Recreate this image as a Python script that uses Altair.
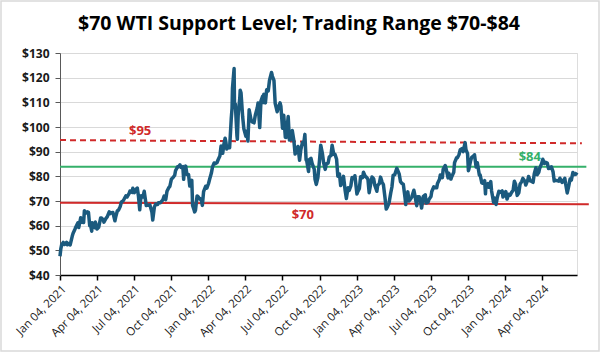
import altair as alt
import pandas as pd

dates_2021 = ["2021-01-04","2021-01-06","2021-01-08","2021-01-12","2021-01-15","2021-01-20","2021-01-22","2021-01-27","2021-01-29",
"2021-02-03","2021-02-05","2021-02-10","2021-02-12","2021-02-17","2021-02-19","2021-02-24","2021-02-26",
"2021-03-03","2021-03-05","2021-03-08","2021-03-12","2021-03-15","2021-03-18","2021-03-19","2021-03-23","2021-03-24","2021-03-26","2021-03-31",
"2021-04-01","2021-04-05","2021-04-09","2021-04-14","2021-04-16","2021-04-20","2021-04-22","2021-04-27","2021-04-30",
"2021-05-05","2021-05-07","2021-05-11","2021-05-14","2021-05-19","2021-05-21","2021-05-25","2021-05-28",
"2021-06-01","2021-06-04","2021-06-08","2021-06-11","2021-06-15","2021-06-18","2021-06-23","2021-06-25","2021-06-30",
"2021-07-02","2021-07-06","2021-07-09","2021-07-13","2021-07-16","2021-07-19","2021-07-21","2021-07-23","2021-07-27","2021-07-30",
"2021-08-04","2021-08-06","2021-08-10","2021-08-13","2021-08-18","2021-08-20","2021-08-24","2021-08-27",
"2021-09-01","2021-09-03","2021-09-08","2021-09-10","2021-09-14","2021-09-17","2021-09-21","2021-09-24","2021-09-28",
"2021-10-01","2021-10-05","2021-10-08","2021-10-13","2021-10-15","2021-10-20","2021-10-22","2021-10-26","2021-10-29",
"2021-11-02","2021-11-04","2021-11-05","2021-11-09","2021-11-12","2021-11-16","2021-11-19","2021-11-24","2021-11-26","2021-11-30",
"2021-12-01","2021-12-03","2021-12-07","2021-12-10","2021-12-14","2021-12-17","2021-12-20","2021-12-23","2021-12-28","2021-12-31"]
prices_2021 = [47.62,50.63,52.24,53.21,52.36,53.24,52.27,52.85,52.20,
55.69,56.85,58.68,59.47,61.14,59.24,63.22,61.50,
61.28,66.09,65.05,65.61,65.39,60.00,61.42,57.76,61.18,60.97,59.16,
61.45,58.65,59.32,63.15,63.13,62.44,61.43,62.94,63.58,
65.63,64.90,65.28,65.37,61.96,63.58,66.07,66.32,
67.72,69.62,70.05,70.91,72.12,71.64,73.08,74.05,73.47,
75.16,73.37,74.56,75.25,71.81,66.42,70.30,72.07,71.65,73.95,
68.15,68.28,68.29,68.44,65.46,62.32,67.54,68.74,
68.59,69.29,69.30,69.72,70.46,71.97,70.56,73.98,75.29,
75.88,78.93,79.35,80.44,82.28,83.87,83.76,84.65,83.57,
83.91,78.81,81.27,84.15,80.79,80.76,76.10,78.39,68.15,66.18,
65.57,66.26,72.05,71.67,70.73,70.86,68.23,73.79,75.98,75.21]

dates_2022 = ["2022-01-04","2022-01-07","2022-01-11","2022-01-14","2022-01-18","2022-01-21","2022-01-25","2022-01-28",
"2022-02-01","2022-02-04","2022-02-08","2022-02-11","2022-02-14","2022-02-16","2022-02-18","2022-02-23","2022-02-25",
"2022-03-01","2022-03-03","2022-03-04","2022-03-08","2022-03-09","2022-03-11","2022-03-15","2022-03-16","2022-03-18","2022-03-22","2022-03-23","2022-03-25","2022-03-29",
"2022-04-01","2022-04-06","2022-04-08","2022-04-11","2022-04-14","2022-04-19","2022-04-22","2022-04-26","2022-04-29",
"2022-05-04","2022-05-06","2022-05-10","2022-05-13","2022-05-17","2022-05-19","2022-05-20","2022-05-24","2022-05-27","2022-05-31",
"2022-06-03","2022-06-08","2022-06-10","2022-06-14","2022-06-17","2022-06-22","2022-06-24","2022-06-29",
"2022-07-01","2022-07-05","2022-07-07","2022-07-08","2022-07-12","2022-07-14","2022-07-15","2022-07-19","2022-07-22","2022-07-26","2022-07-29",
"2022-08-02","2022-08-05","2022-08-09","2022-08-12","2022-08-16","2022-08-19","2022-08-23","2022-08-26","2022-08-29",
"2022-09-01","2022-09-02","2022-09-07","2022-09-09","2022-09-13","2022-09-16","2022-09-21","2022-09-23","2022-09-26","2022-09-30",
"2022-10-04","2022-10-07","2022-10-11","2022-10-14","2022-10-18","2022-10-21","2022-10-25","2022-10-28",
"2022-11-01","2022-11-04","2022-11-08","2022-11-11","2022-11-15","2022-11-18","2022-11-22","2022-11-25","2022-11-28",
"2022-12-02","2022-12-06","2022-12-09","2022-12-13","2022-12-16","2022-12-20","2022-12-23","2022-12-28","2022-12-30"]
prices_2022 = [76.99,78.90,81.22,83.82,85.43,85.14,85.60,86.82,
88.20,92.31,89.36,93.10,95.46,93.66,91.07,92.10,91.59,
103.41,107.67,115.68,123.70,108.70,109.33,96.44,95.04,104.70,111.76,114.93,113.90,104.24,
99.27,96.23,98.26,94.29,106.95,102.56,102.07,101.70,104.69,
107.81,109.77,99.76,110.49,112.40,109.89,113.23,109.77,115.07,114.67,
118.87,122.11,120.67,118.93,109.56,106.19,107.62,109.78,
108.43,99.50,102.73,104.79,95.84,95.78,97.59,104.22,94.70,94.98,98.62,
94.42,89.01,90.50,92.09,86.53,90.77,93.74,93.06,97.01,
86.61,86.87,81.94,86.79,87.31,85.11,82.94,78.74,76.71,79.49,
86.52,92.64,89.35,85.61,82.82,85.05,85.32,87.90,
88.37,92.61,88.91,88.96,86.92,80.08,80.95,76.28,77.24,
79.98,74.25,71.02,75.39,74.29,76.09,79.56,78.96,80.26]

dates_2023 = ["2023-01-04","2023-01-06","2023-01-10","2023-01-13","2023-01-18","2023-01-20","2023-01-24","2023-01-27","2023-01-31",
"2023-02-03","2023-02-07","2023-02-10","2023-02-14","2023-02-17","2023-02-22","2023-02-24","2023-02-28",
"2023-03-03","2023-03-07","2023-03-10","2023-03-14","2023-03-17","2023-03-20","2023-03-24","2023-03-28","2023-03-31",
"2023-04-03","2023-04-07","2023-04-12","2023-04-14","2023-04-18","2023-04-21","2023-04-25","2023-04-28",
"2023-05-02","2023-05-04","2023-05-05","2023-05-09","2023-05-12","2023-05-16","2023-05-19","2023-05-24","2023-05-26","2023-05-31",
"2023-06-02","2023-06-06","2023-06-09","2023-06-12","2023-06-16","2023-06-21","2023-06-23","2023-06-28","2023-06-30",
"2023-07-05","2023-07-07","2023-07-12","2023-07-14","2023-07-19","2023-07-21","2023-07-26","2023-07-28",
"2023-08-02","2023-08-04","2023-08-09","2023-08-11","2023-08-16","2023-08-18","2023-08-23","2023-08-25","2023-08-30",
"2023-09-01","2023-09-06","2023-09-08","2023-09-12","2023-09-15","2023-09-19","2023-09-22","2023-09-27","2023-09-29",
"2023-10-03","2023-10-05","2023-10-06","2023-10-10","2023-10-13","2023-10-18","2023-10-20","2023-10-24","2023-10-27",
"2023-11-01","2023-11-03","2023-11-07","2023-11-10","2023-11-14","2023-11-16","2023-11-17","2023-11-22","2023-11-24","2023-11-29",
"2023-12-01","2023-12-06","2023-12-08","2023-12-12","2023-12-15","2023-12-19","2023-12-22","2023-12-27","2023-12-29"]
prices_2023 = [72.84,73.77,75.12,79.86,79.48,81.64,80.13,79.68,78.87,
73.39,77.14,79.72,79.06,76.34,73.95,76.32,77.05,
79.68,77.58,76.68,71.33,66.74,67.64,69.26,73.20,75.67,
80.42,80.70,83.26,82.52,80.86,77.87,77.07,76.78,
71.66,68.56,71.34,73.71,70.04,70.86,71.69,74.34,72.67,68.09,
71.74,71.74,70.17,67.12,71.78,72.53,69.16,69.56,70.64,
71.79,73.86,75.75,75.42,75.35,77.07,78.78,80.58,
79.49,82.82,84.40,83.19,79.38,81.25,78.89,79.83,81.63,
85.55,87.54,87.51,88.84,90.77,91.20,90.03,93.68,90.79,
89.23,82.31,82.79,85.97,87.69,88.32,88.75,83.74,85.54,
80.44,80.51,77.37,77.17,78.26,72.90,75.89,77.10,75.54,77.86,
74.07,69.38,71.23,68.61,71.43,73.94,73.56,74.11,71.65]

dates_2024 = ["2024-01-03","2024-01-05","2024-01-08","2024-01-12","2024-01-16","2024-01-19","2024-01-23","2024-01-26","2024-01-29",
"2024-02-02","2024-02-06","2024-02-09","2024-02-13","2024-02-16","2024-02-21","2024-02-23","2024-02-28",
"2024-03-01","2024-03-05","2024-03-08","2024-03-12","2024-03-15","2024-03-19","2024-03-22","2024-03-26","2024-03-28",
"2024-04-02","2024-04-05","2024-04-09","2024-04-12","2024-04-16","2024-04-19","2024-04-23","2024-04-26","2024-04-30",
"2024-05-03","2024-05-07","2024-05-10","2024-05-14","2024-05-17","2024-05-22","2024-05-24","2024-05-29","2024-05-31",
"2024-06-04","2024-06-07","2024-06-11","2024-06-14","2024-06-18","2024-06-21","2024-06-25","2024-06-28"]
prices_2024 = [72.70,73.81,70.77,72.68,72.40,73.41,74.37,78.01,76.78,
72.28,73.31,76.84,77.87,79.19,77.91,76.49,78.54,
79.97,78.15,78.01,77.56,81.04,83.47,80.63,81.62,83.17,
85.15,86.91,85.23,85.66,85.36,83.14,83.36,83.85,81.93,
78.11,78.38,78.26,78.02,79.23,77.57,77.72,79.23,76.99,
73.25,75.53,78.90,78.45,81.57,80.73,80.83,81.54]

# ---- reference levels ----
ref_names = ["$95 level", "$84 level", "$70 level"]
ref_start_dates = ["2021-01-04", "2021-01-04", "2021-01-04"]
ref_end_dates = ["2024-07-10", "2024-07-21", "2024-07-27"]
ref_start_vals = [94.7, 83.9, 69.3]
ref_end_vals = [93.4, 83.9, 68.7]

# ---- annotations ----
ann_text = ["$95", "$70", "$84"]
ann_dates = ["2021-07-20", "2022-08-24", "2024-03-04"]
ann_vals = [98.4, 64.3, 87.8]
ann_colors = ["#D02A2A", "#D02A2A", "#35B06A"]

title_text = ["$70 WTI Support Level; Trading Range $70-$84"]

y_ticks = [40, 50, 60, 70, 80, 90, 100, 110, 120, 130]
tick_months = [(2021,1),(2021,4),(2021,7),(2021,10),(2022,1),(2022,4),(2022,7),(2022,10),
               (2023,1),(2023,4),(2023,7),(2023,10),(2024,1),(2024,4)]

price_df = pd.DataFrame({
    "date": dates_2021 + dates_2022 + dates_2023 + dates_2024,
    "price": prices_2021 + prices_2022 + prices_2023 + prices_2024,
})
ref_df = pd.DataFrame({
    "name": ref_names * 2,
    "date": ref_start_dates + ref_end_dates,
    "value": ref_start_vals + ref_end_vals,
})
ann_df = pd.DataFrame({"label": ann_text, "date": ann_dates, "value": ann_vals, "color": ann_colors})

FONT = "Open Sans"
x_scale = alt.Scale(type="utc", domain=[alt.DateTime(year=2021, month=1, date=4, utc=True),
                                        alt.DateTime(year=2024, month=6, date=28, utc=True)])
y_scale = alt.Scale(domain=[40, 130], nice=False, zero=False)

x_axis = alt.Axis(
    values=[alt.DateTime(year=y, month=m, date=4, utc=True) for y, m in tick_months],
    labelExpr="utcFormat(datum.value, '%b %d, %Y')", labelAngle=315, labelFont=FONT, labelFontSize=11.5,
    labelColor="#1A1A1A", domainColor="#000000", domainWidth=1.5, tickColor="#000000",
    tickWidth=1.5, tickSize=5, grid=False, title=None, labelPadding=3, labelOverlap=False,
)
y_axis = alt.Axis(
    values=y_ticks, format="$,.0f", labelFont=FONT, labelFontSize=12, labelFontWeight="bold",
    labelColor="#1A1A1A", domainColor="#595959", tickColor="#595959", tickSize=5,
    gridColor="#D9D9D9", gridWidth=1, title=None, labelPadding=6,
)

base_x = alt.X("date:T", scale=x_scale, axis=x_axis)
base_y = alt.Y("value:Q", scale=y_scale, axis=y_axis)

frame = alt.Chart(pd.DataFrame({"k": [0]})).mark_rect(
    fill=None, stroke="#D9D9D9", strokeWidth=1.5
).encode(x=alt.value(-59), x2=alt.value(539), y=alt.value(-52), y2=alt.value(298))

title = alt.Chart(pd.DataFrame({"t": title_text})).mark_text(
    font=FONT, fontSize=19.5, fontWeight="bold", color="#000000", align="center", baseline="alphabetic"
).encode(text="t:N", x=alt.value(239), y=alt.value(-23))

ref95 = alt.Chart(ref_df).transform_filter(alt.datum.name == "$95 level").mark_line(
    color="#D02A2A", strokeWidth=2, strokeDash=[6, 4], clip=False).encode(x=base_x, y=base_y)
ref84 = alt.Chart(ref_df).transform_filter(alt.datum.name == "$84 level").mark_line(
    color="#35B06A", strokeWidth=2, clip=False).encode(x=base_x, y=base_y)
ref70 = alt.Chart(ref_df).transform_filter(alt.datum.name == "$70 level").mark_line(
    color="#D02A2A", strokeWidth=2, clip=False).encode(x=base_x, y=base_y)

ann = alt.Chart(ann_df).mark_text(font=FONT, fontSize=13, fontWeight="bold").encode(
    x=base_x, y=base_y, text="label:N", color=alt.Color("color:N", scale=None))

price = alt.Chart(price_df).mark_line(color="#1B5A7E", strokeWidth=3.5, strokeJoin="round").encode(
    x=base_x, y=alt.Y("price:Q", scale=y_scale, axis=y_axis))

chart = alt.layer(frame, title, ref95, ref84, ref70, ann, price).properties(
    width=517, height=222,
    autosize=alt.AutoSizeParams(type="none"),
    padding={"left": 60, "top": 53, "right": 23, "bottom": 77},
).configure_view(stroke=None).configure(background="#FFFFFF")

chart.save("out.html", embed_options={"renderer": "svg", "actions": False})
